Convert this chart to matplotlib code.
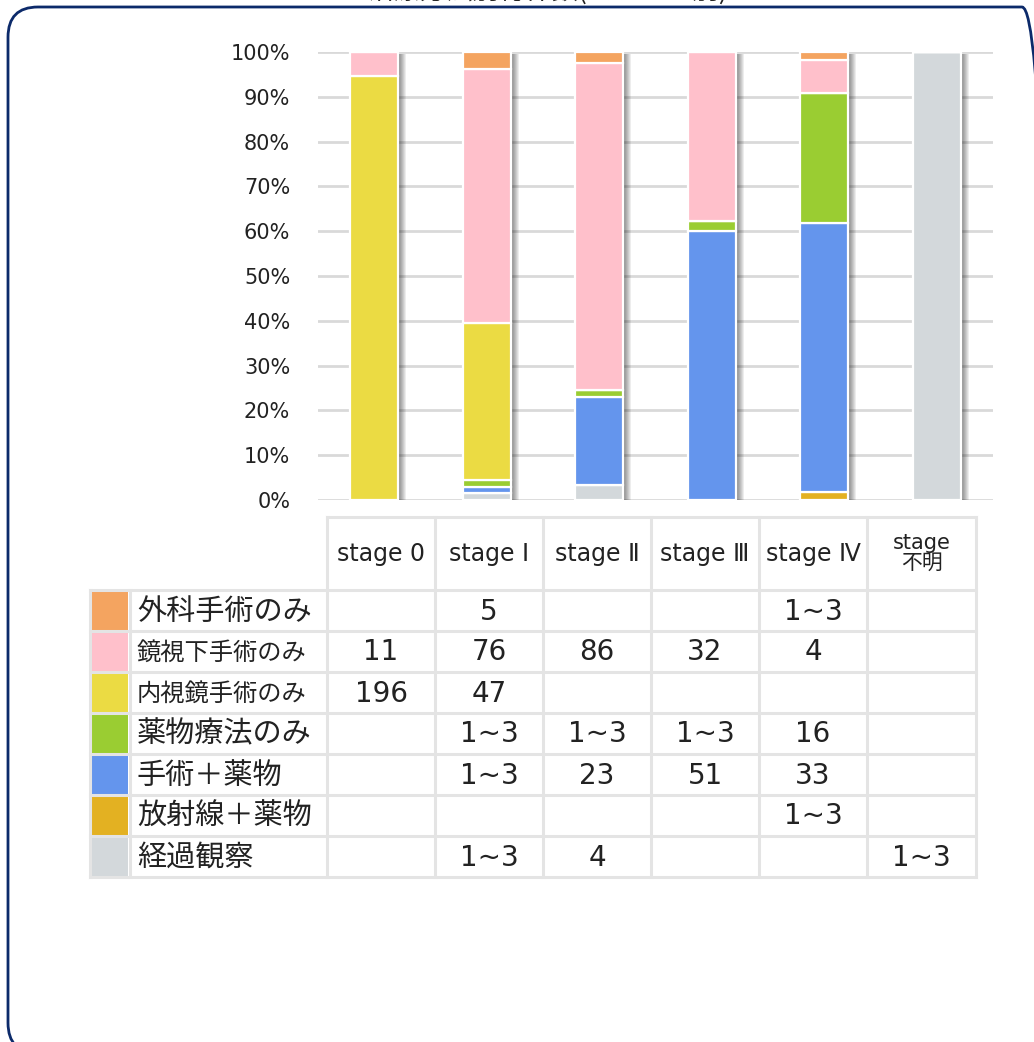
import numpy as np
import matplotlib.pyplot as plt
from matplotlib.patches import FancyBboxPatch, Rectangle
from matplotlib.lines import Line2D

plt.rcParams['font.family'] = ['DejaVu Sans', 'Noto Sans CJK JP']

# DATA
stages = ["stage 0", "stage Ⅰ", "stage Ⅱ", "stage Ⅲ", "stage Ⅳ", "stage\n不明"]
treatments = ["外科手術のみ", "鏡視下手術のみ", "内視鏡手術のみ", "薬物療法のみ",
              "手術＋薬物", "放射線＋薬物", "経過観察"]
colors = ["#f4a460", "#ffc0cb", "#ebdb43", "#9acd32", "#6495ed", "#e3b122", "#d3d8db"]

# counts per stage (1~3 cells)
surgery_only    = [0, 5, 3, 0, 1, 0]
laparoscopic    = [11, 76, 86, 32, 4, 0]
endoscopic      = [196, 47, 0, 0, 0, 0]
drug_only       = [0, 2, 2, 2, 16, 0]
surgery_drug    = [0, 2, 23, 51, 33, 0]
radiation_drug  = [0, 0, 0, 0, 1, 0]
observation     = [0, 2, 4, 0, 0, 2]

# table text as shown under the chart
table_text = [
    ["", "5", "", "", "1~3", ""],
    ["11", "76", "86", "32", "4", ""],
    ["196", "47", "", "", "", ""],
    ["", "1~3", "1~3", "1~3", "16", ""],
    ["", "1~3", "23", "51", "33", ""],
    ["", "", "", "", "1~3", ""],
    ["", "1~3", "4", "", "", "1~3"],
]

title = "治療方法別総件数(ステージ別)"

W, H = 1034, 1042
fig = plt.figure(figsize=(W / 100, H / 100), dpi=100)

def fx(px):
    return px / W

def fy(py):
    return 1 - py / H

# rounded frame
frame = FancyBboxPatch((fx(8), fy(1053)), fx(1052) - fx(8), fy(7) - fy(1053),
                       boxstyle="round,pad=0,rounding_size=0.029",
                       transform=fig.transFigure, facecolor="none",
                       edgecolor="#0c2a6a", linewidth=2, clip_on=False)
fig.add_artist(frame)
# title is cut at the top edge, as in the original
fig.text(fx(548), fy(5), title, ha="center", va="bottom", fontsize=19,
         family=["Noto Sans CJK JP"], color="#222222")

# bar chart
ax = fig.add_axes([fx(318), fy(500), fx(993) - fx(318), fy(52) - fy(500)])
series = [observation, radiation_drug, surgery_drug, drug_only,
          endoscopic, laparoscopic, surgery_only]
series_colors = [colors[6], colors[5], colors[4], colors[3], colors[2], colors[1], colors[0]]
data = np.array(series, dtype=float)
pct = data / data.sum(axis=0) * 100
x = np.arange(len(stages))
w = 0.43
px_u = 1 / 112.5

# soft shadow on right side
for k in range(1, 9):
    ax.bar(x + k * px_u, 100.2, width=w, bottom=-0.7, color="black",
           alpha=0.07, linewidth=0, zorder=1)

bottom = np.zeros(len(stages))
for vals, c in zip(pct, series_colors):
    ax.bar(x, vals, width=w, bottom=bottom, color=c, edgecolor="white",
           linewidth=1.6, zorder=3)
    bottom += vals

ax.set_xlim(-0.5, 5.5)
ax.set_ylim(0, 100)
ax.set_yticks(np.arange(0, 101, 10))
ax.set_yticklabels([f"{v}%" for v in range(0, 101, 10)], fontsize=15, color="#222222")
ax.set_xticks([])
ax.tick_params(axis="y", length=0, pad=20)
ax.grid(axis="y", color="#d9d9d9", linewidth=2, zorder=0)
ax.set_axisbelow(True)
for s in ax.spines.values():
    s.set_visible(False)

# table under the chart
col_edges = [327, 435, 543, 651, 759, 867, 976]
row_edges = [590, 631, 672, 713, 754, 795, 836, 877]
grid_c = "#e4e4e4"
lw = 2.2

def hline(y, x0, x1):
    fig.add_artist(Line2D([fx(x0), fx(x1)], [fy(y), fy(y)], color=grid_c, linewidth=lw,
                          transform=fig.transFigure))

def vline(x0, y0, y1):
    fig.add_artist(Line2D([fx(x0), fx(x0)], [fy(y0), fy(y1)], color=grid_c, linewidth=lw,
                          transform=fig.transFigure))

hline(517, col_edges[0], col_edges[-1])
for y in row_edges:
    hline(y, 90, col_edges[-1])
for cx in col_edges:
    vline(cx, 517, row_edges[-1])
vline(90, row_edges[0], row_edges[-1])
vline(130, row_edges[0], row_edges[-1])

for j, st in enumerate(stages):
    cx = (col_edges[j] + col_edges[j + 1]) / 2
    if "\n" in st:
        fig.text(fx(cx), fy(553), st, ha="center", va="center", fontsize=15,
                 linespacing=1.0, color="#222222")
    else:
        fig.text(fx(cx), fy(554), st, ha="center", va="center", fontsize=17,
                 color="#222222")

label_sizes = [21, 17.5, 17.5, 21, 21, 21, 21]
for i, name in enumerate(treatments):
    y0, y1 = row_edges[i], row_edges[i + 1]
    fig.add_artist(Rectangle((fx(92), fy(y1 - 1)), fx(128) - fx(92), fy(y0 + 1) - fy(y1 - 1),
                             facecolor=colors[i], edgecolor="none",
                             transform=fig.transFigure))
    fig.text(fx(137), fy((y0 + y1) / 2 + 1), name, ha="left", va="center",
             fontsize=label_sizes[i], family=["Noto Sans CJK JP"], color="#222222")
    for j in range(len(stages)):
        t = table_text[i][j]
        if t:
            cx = (col_edges[j] + col_edges[j + 1]) / 2
            fig.text(fx(cx), fy((y0 + y1) / 2 + 1), t, ha="center", va="center",
                     fontsize=20, color="#222222")

fig.savefig("out.png", dpi=100)
